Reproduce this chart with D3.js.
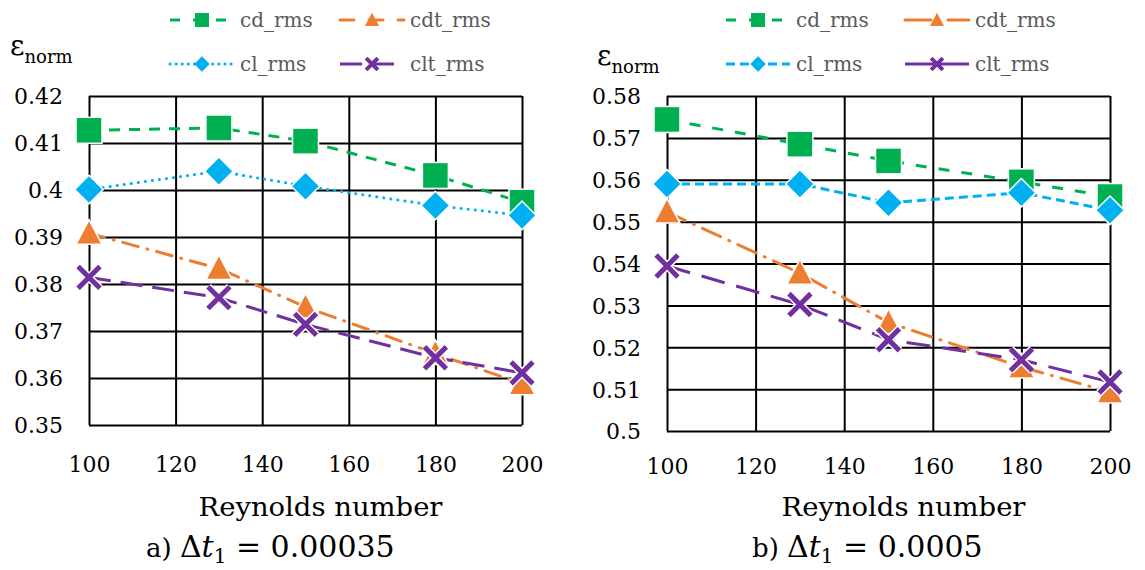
<!DOCTYPE html>
<html><head><meta charset="utf-8">
<script src="https://cdn.jsdelivr.net/npm/d3@7"></script>
</head><body style="margin:0;background:#fff">
<svg id="c" width="1145" height="570"></svg>
<script>
const reynolds = [100, 130, 150, 180, 200];
const xTicks = [100, 120, 140, 160, 180, 200];
const seriesNames = ["cd_rms", "cdt_rms", "cl_rms", "clt_rms"];
// panel a (dt = 0.00035)
const a_cd  = [0.4127, 0.4132, 0.4104, 0.4031, 0.3974];
const a_cdt = [0.3908, 0.3833, 0.3751, 0.3652, 0.3588];
const a_cl  = [0.4001, 0.4040, 0.4008, 0.3967, 0.3946];
const a_clt = [0.3814, 0.3771, 0.3714, 0.3643, 0.3611];
const a_yTicks = [0.35, 0.36, 0.37, 0.38, 0.39, 0.40, 0.41, 0.42];
// panel b (dt = 0.0005)
const b_cd  = [0.5744, 0.5685, 0.5645, 0.5595, 0.5560];
const b_cdt = [0.5523, 0.5377, 0.5259, 0.5153, 0.5093];
const b_cl  = [0.5590, 0.5590, 0.5545, 0.5569, 0.5527];
const b_clt = [0.5394, 0.5302, 0.5218, 0.5170, 0.5117];
const b_yTicks = [0.50, 0.51, 0.52, 0.53, 0.54, 0.55, 0.56, 0.57, 0.58];

const colors = {cd_rms:"#00B050", cdt_rms:"#ED7D31", cl_rms:"#00B0F0", clt_rms:"#7030A0"};
const markers = {cd_rms:"square", cdt_rms:"triangle", cl_rms:"diamond", clt_rms:"x"};
const SERIF = "'DejaVu Serif'";

const svg = d3.select("#c");

function drawMarker(g, type, x, y, col, s, outline) {
  const ow = outline ? 1.5 : 0;
  if (type === "square") {
    g.append("rect").attr("x", x - s/2).attr("y", y - s/2).attr("width", s).attr("height", s).attr("fill", col)
      .attr("stroke", "#fff").attr("stroke-width", ow);
  } else if (type === "diamond") {
    const h = s*0.55;
    g.append("path").attr("d", `M${x},${y-h}L${x+h},${y}L${x},${y+h}L${x-h},${y}Z`).attr("fill", col)
      .attr("stroke", "#fff").attr("stroke-width", ow);
  } else if (type === "triangle") {
    const h = s*0.5;
    g.append("path").attr("d", `M${x},${y-h*1.05}L${x+h},${y+h*0.85}L${x-h},${y+h*0.85}Z`).attr("fill", col)
      .attr("stroke", "#fff").attr("stroke-width", ow);
  } else {
    const h = s*0.42;
    const d = `M${x-h},${y-h}L${x+h},${y+h}M${x-h},${y+h}L${x+h},${y-h}`;
    if (outline) g.append("path").attr("d", d).attr("stroke", "#fff").attr("stroke-width", 8).attr("fill", "none");
    g.append("path").attr("d", d).attr("stroke", col).attr("stroke-width", outline ? 5 : 4).attr("fill", "none");
  }
}

function txt(sel, size) {
  return sel.style("font-family", SERIF).style("font-size", size + "px");
}

function panel(opt) {
  const g = svg.append("g");
  const x = d3.scaleLinear().domain([100, 200]).range([opt.left, opt.right]);
  const y = d3.scaleLinear().domain([opt.yTicks[0], opt.yTicks[opt.yTicks.length-1]]).range([opt.bottom, opt.top]);

  const xa = d3.axisBottom(x).tickValues(xTicks).tickSize(-(opt.bottom - opt.top)).tickFormat(d => d).tickPadding(opt.xPad);
  const gx = g.append("g").attr("transform", `translate(0,${opt.bottom})`).call(xa);
  gx.attr("font-family", null).attr("font-size", null);
  gx.select(".domain").remove();
  gx.selectAll("line").attr("stroke", "#000").attr("stroke-width", 2);
  txt(gx.selectAll("text"), 22).attr("fill", "#000");

  const ya = d3.axisLeft(y).tickValues(opt.yTicks).tickSize(-(opt.right - opt.left)).tickFormat(d => String(+d.toFixed(2))).tickPadding(26);
  const gy = g.append("g").attr("transform", `translate(${opt.left},0)`).call(ya);
  gy.attr("font-family", null).attr("font-size", null);
  gy.select(".domain").remove();
  gy.selectAll("line").attr("stroke", "#000").attr("stroke-width", 2);
  txt(gy.selectAll("text"), 22).attr("fill", "#000").attr("dy", "0.36em");

  const line = d3.line().x((d, i) => x(reynolds[i])).y(d => y(d));
  const order = ["cd_rms", "cl_rms", "cdt_rms", "clt_rms"];
  order.forEach(n => {
    g.append("path").datum(opt.data[n]).attr("d", line).attr("fill", "none")
      .attr("stroke", colors[n]).attr("stroke-width", 3).attr("stroke-dasharray", opt.dash[n])
      .attr("stroke-linecap", opt.cap[n] || "butt");
  });
  order.forEach(n => {
    opt.data[n].forEach((v, i) => drawMarker(g, markers[n], x(reynolds[i]), y(v), colors[n], 26, true));
  });

  // y label
  const yl = txt(g.append("text"), 28).attr("x", opt.epsX).attr("y", opt.epsY).attr("fill", "#000");
  yl.append("tspan").text("ε");
  txt(yl.append("tspan"), 18).attr("dy", 8).text("norm");

  // x label
  txt(g.append("text"), 26).attr("x", (opt.left + opt.right)/2 + 15).attr("y", 516).attr("text-anchor", "middle")
    .attr("textLength", 244).attr("lengthAdjust", "spacingAndGlyphs")
    .attr("fill", "#000").text("Reynolds number");

  // caption
  const cap = txt(g.append("text"), 26).attr("x", opt.capX).attr("y", 557).attr("fill", "#000");
  cap.append("tspan").text(opt.capPre + " ");
  txt(cap.append("tspan"), 30).text("Δ");
  txt(cap.append("tspan"), 30).style("font-style", "italic").text("t");
  txt(cap.append("tspan"), 20).attr("dy", 6).text("1");
  txt(cap.append("tspan"), 30).attr("dy", -6).text(" = " + opt.capVal);

  // legend
  const legPos = [
    {n:"cd_rms", x: opt.legX[0], y: 20}, {n:"cdt_rms", x: opt.legX[1], y: 20},
    {n:"cl_rms", x: opt.legX[0], y: 64}, {n:"clt_rms", x: opt.legX[1], y: 64}];
  legPos.forEach(p => {
    const lg = g.append("g");
    lg.append("line").attr("x1", p.x).attr("x2", p.x + 64).attr("y1", p.y).attr("y2", p.y)
      .attr("stroke", colors[p.n]).attr("stroke-width", 3).attr("stroke-dasharray", opt.legDash[p.n])
      .attr("stroke-linecap", opt.cap[p.n] || "butt");
    drawMarker(lg, markers[p.n], p.x + 32, p.y, colors[p.n], 14, false);
    txt(lg.append("text"), 20).attr("x", p.x + 70).attr("y", p.y + 7).attr("fill", "#595959").text(p.n);
  });
}

panel({
  left: 89, right: 522, top: 96, bottom: 425, yTicks: a_yTicks, xPad: 31,
  data: {cd_rms: a_cd, cdt_rms: a_cdt, cl_rms: a_cl, clt_rms: a_clt},
  dash: {cd_rms: "11,9", cdt_rms: "16,9,1,9", cl_rms: "0.1,7", clt_rms: "22,10"},
  legDash: {cd_rms: "10,13", cdt_rms: "14,15", cl_rms: "0.1,6", clt_rms: "22,10"},
  cap: {cl_rms: "round", cdt_rms: "round"},
  epsX: 10, epsY: 55, capX: 146, capPre: "a)", capVal: "0.00035", legX: [170, 340]
});
panel({
  left: 667, right: 1110, top: 96, bottom: 431, yTicks: b_yTicks, xPad: 27,
  data: {cd_rms: b_cd, cdt_rms: b_cdt, cl_rms: b_cl, clt_rms: b_clt},
  dash: {cd_rms: "11,12", cdt_rms: "20,9,1,9", cl_rms: "9,5", clt_rms: "24,12"},
  legDash: {cd_rms: "10,13", cdt_rms: "26,6,1,10", cl_rms: "9,5", clt_rms: "64,0"},
  cap: {cdt_rms: "round"},
  epsX: 597, epsY: 65, capX: 752, capPre: "b)", capVal: "0.0005", legX: [726, 905]
});
</script>
</body></html>
